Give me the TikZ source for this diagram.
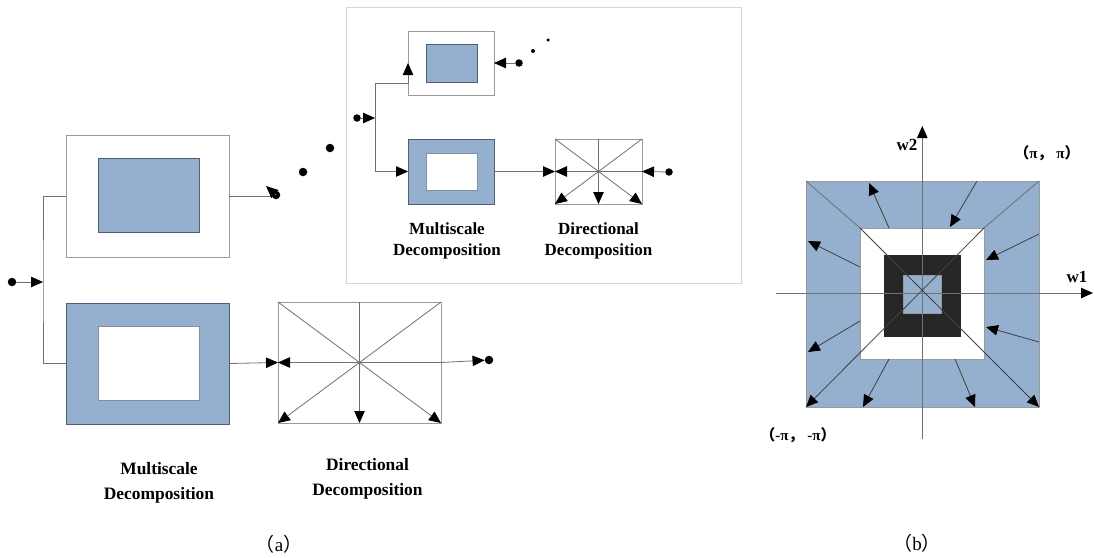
\documentclass[tikz,border=0pt]{standalone}
\usepackage{fontspec}
\setmainfont{Liberation Serif}
\newfontfamily\cjk{Noto Sans CJK SC}
\usetikzlibrary{arrows.meta,calc}
\definecolor{boxblue}{HTML}{95AFCE}
\definecolor{blueedge}{HTML}{4E5E74}
\definecolor{linegray}{HTML}{707070}
\definecolor{framegray}{HTML}{9A9A9A}
\definecolor{insetframe}{HTML}{C6D8EA}
\definecolor{darksq}{HTML}{262626}
\tikzset{
  box/.style={rectangle, inner sep=0pt, outer sep=0pt, line width=0.8pt},
  whitebox/.style={box, draw=framegray, fill=white},
  bluebox/.style={box, draw=blueedge, fill=boxblue},
  ln/.style={draw=linegray, line width=0.8pt},
  arr/.style={ln, -{Triangle[length=12pt,width=10.5pt,color=black]}},
  dotn/.style={circle, fill=black, inner sep=0pt, minimum size=8.5pt},
  sdotn/.style={circle, fill=black, inner sep=0pt, minimum size=7.5pt},
  lab/.style={align=center, font=\bfseries\fontsize{17}{21}\selectfont},
  labbig/.style={align=center, font=\bfseries\fontsize{17.4}{25}\selectfont},
  captext/.style={font=\fontsize{19}{22}\selectfont},
  axlab/.style={font=\bfseries\fontsize{17}{20}\selectfont},
  pilab/.style={font=\bfseries\fontsize{15}{18}\selectfont}
}
\begin{document}
\begin{tikzpicture}[x=1pt,y=-1pt]
\useasboundingbox (0,0) rectangle (1094,557);

% ---------------- (a) main part ----------------
\node[whitebox, minimum width=163pt, minimum height=122pt] (topbox) at (147.5,196) {};
\node[bluebox, minimum width=101pt, minimum height=74pt] (topin) at (148.5,195) {};
\node[bluebox, minimum width=163pt, minimum height=121pt] (botbox) at (147.5,363.5) {};
\node[whitebox, draw=blueedge!70, minimum width=101pt, minimum height=74pt] (botin) at (148.5,363) {};
\node[whitebox, minimum width=163pt, minimum height=121pt] (dir) at (359.5,362.5) {};

\node[dotn] (in1) at (12,282) {};
\coordinate (split) at (43,282);
\draw[arr] (in1) -- (split);
\draw[ln] (topbox.west) -| (split) |- (botbox.west);

% top box output
\coordinate (ta) at (271,196);
\node[dotn] (tdot) at (276,195) {};
\draw[ln] (topbox.east) -- (ta);
\coordinate (tb) at (266,186);
\draw[arr] (tdot.center) -- (tb);
\node[dotn] (d1) at (303,172) {};
\node[dotn] (d2) at (330,148) {};

% bottom path
\draw[arr] (botbox.east) -- (dir.west);
\draw[ln] (dir.center) -- (dir.north);
\draw[ln] (dir.center) -- (dir.east);
\draw[arr] (dir.center) -- (dir.west);
\draw[arr] (dir.center) -- (dir.south);
\draw[arr] (dir.north west) -- (dir.south east);
\draw[arr] (dir.north east) -- (dir.south west);
\node[dotn] (odot) at (489,360) {};
\draw[arr] (dir.east) -- (odot);

\node[labbig] (lab1) at (159,482.5) {Multiscale\\Decomposition};
\node[labbig] (lab2) at (367.5,479) {Directional\\Decomposition};

% ---------------- (a) inset ----------------
\node[box, draw=insetframe, minimum width=395pt, minimum height=276pt] (frame) at (543.5,145) {};
\node[whitebox, minimum width=86pt, minimum height=64pt] (stop) at (451,63) {};
\node[bluebox, minimum width=51pt, minimum height=38pt] (stopin) at (451.5,63) {};
\node[bluebox, minimum width=86pt, minimum height=65pt] (sbot) at (451,171.5) {};
\node[whitebox, draw=blueedge!70, minimum width=51pt, minimum height=37pt] (sbotin) at (451.5,171.5) {};
\node[whitebox, minimum width=87pt, minimum height=65pt] (sdir) at (598.5,171.5) {};

\node[sdotn] (sin) at (357,118) {};
\coordinate (split2) at (375,118);
\draw[arr] (sin) -- (split2);
\coordinate (sk) at (408,83);
\draw[arr] (split2) |- (sk) -- (stop.west);
\draw[arr] (split2) |- (sbot.west);

\node[sdotn] (sdot1) at (519,63) {};
\draw[arr] (sdot1) -- (stop.east);
\node[circle, fill=black, inner sep=0pt, minimum size=4pt] (sd2) at (533,51) {};
\node[circle, fill=black, inner sep=0pt, minimum size=3.5pt] (sd3) at (548,40) {};

\draw[arr] (sbot.east) -- (sdir.west);
\draw[ln] (sdir.center) -- (sdir.north);
\draw[ln] (sdir.center) -- (sdir.east);
\draw[arr] (sdir.center) -- (sdir.west);
\draw[arr] (sdir.center) -- (sdir.south);
\draw[arr] (sdir.north west) -- (sdir.south east);
\draw[arr] (sdir.north east) -- (sdir.south west);
\node[sdotn] (sdot2) at (669,172) {};
\draw[arr] (sdot2) -- (sdir.east);

\node[lab] (lab3) at (447,241) {Multiscale\\Decomposition};
\node[lab] (lab4) at (598.5,241) {Directional\\Decomposition};

\node[captext] (capa) at (279,544) {{\cjk （}a{\cjk ）}};

% ---------------- (b) ----------------
\node[box, draw=framegray, fill=boxblue, minimum width=233pt, minimum height=226pt] (bo) at (922.5,294) {};
\node[box, draw=framegray, fill=white, minimum width=124pt, minimum height=131pt] (bw) at (922,293.5) {};
\node[box, fill=darksq, minimum width=77pt, minimum height=82pt] (bd) at (922.5,296) {};
\node[box, draw=framegray, fill=boxblue, minimum width=38pt, minimum height=38pt] (bs) at (922,294) {};

\draw[arr] (776,293) -- (1093,293);
\draw[arr] (922.3,439) -- (922.3,126);
\draw[ln] (bo.north west) -- (bw.north west);
\draw[ln] (bo.north east) -- (bw.north east);
\draw[arr, draw=black!75] (bw.north west) -- (bo.south east);
\draw[arr, draw=black!75] (bw.north east) -- (bo.south west);

\draw[arr, draw=black!75] (889,228) -- (869,183);
\draw[arr, draw=black!75] (977,181) -- (950,227);
\draw[arr, draw=black!75] (860,267) -- (808,241);
\draw[arr, draw=black!75] (1039,234) -- (986,260);
\draw[arr, draw=black!75] (860,321) -- (808,352);
\draw[arr, draw=black!75] (1039,342) -- (986,327);
\draw[arr, draw=black!75] (889,359) -- (863,407);
\draw[arr, draw=black!75] (955,359) -- (975,407);

\node[axlab] (w2) at (907,145) {w2};
\node[axlab] (w1) at (1077,277) {w1};
\node[pilab] (pp) at (1047,153) {{\cjk （}π{\cjk ，} π{\cjk ）}};
\node[pilab] (mm) at (798,435) {{\cjk （}-π{\cjk ，} -π{\cjk ）}};

\node[captext] (capb) at (917,543) {{\cjk （}b{\cjk ）}};
\end{tikzpicture}
\end{document}
